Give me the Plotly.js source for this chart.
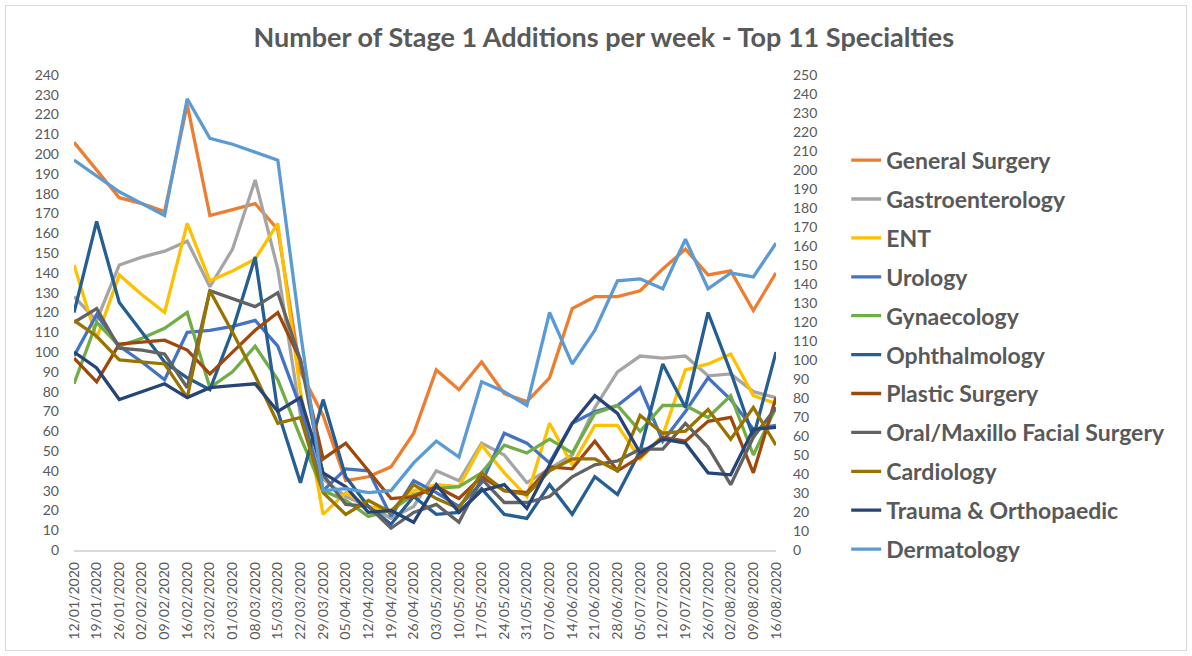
<!DOCTYPE html>
<html>
<head>
<meta charset="utf-8">
<script src="https://cdn.plot.ly/plotly-3.0.1.min.js"></script>
<style>
  html, body { margin: 0; padding: 0; background: #ffffff; }
  #wrap { position: relative; width: 1192px; height: 656px; }
  #chart { width: 1192px; height: 656px; }
  #frame { position: absolute; left: 5px; top: 5px; width: 1180px; height: 644px; border: 1px solid #D9D9D9; pointer-events: none; }
</style>
</head>
<body>
<div id="wrap"><div id="chart"></div><div id="frame"></div></div>
<script>
const weeks = ["12/01/2020","19/01/2020","26/01/2020","02/02/2020","09/02/2020","16/02/2020","23/02/2020","01/03/2020","08/03/2020","15/03/2020","22/03/2020","29/03/2020","05/04/2020","12/04/2020","19/04/2020","26/04/2020","03/05/2020","10/05/2020","17/05/2020","24/05/2020","31/05/2020","07/06/2020","14/06/2020","21/06/2020","28/06/2020","05/07/2020","12/07/2020","19/07/2020","26/07/2020","02/08/2020","09/08/2020","16/08/2020"];

const specialties = ["General Surgery","Gastroenterology","ENT","Urology","Gynaecology","Ophthalmology","Plastic Surgery","Oral/Maxillo Facial Surgery","Cardiology","Trauma & Orthopaedic","Dermatology"];

const generalSurgery = [206,192,178,175,171,225,169,172,175,162,90,68,35,37,42,59,91,81,95,79,75,87,122,128,128,131,142,152,139,141,121,140];
const gastroenterology = [128,116,144,148,151,156,133,152,187,142,68,36,27,22,16,22,40,35,54,48,34,41,48,72,90,98,97,98,88,89,80,77];
const ent = [144,107,139,129,120,165,136,141,147,165,80,18,29,22,20,30,33,32,53,39,27,64,43,63,63,46,58,91,94,99,78,74];
const urology = [98,119,103,95,86,110,111,113,116,103,72,30,41,40,17,35,29,22,34,59,54,44,64,70,73,82,55,70,87,76,61,63];
const gynaecology = [84,115,103,107,112,120,82,90,103,86,57,30,25,17,20,28,31,32,39,53,49,56,49,69,73,60,73,73,67,78,48,72];
const ophthalmology = [120,166,125,110,95,87,81,111,148,70,34,76,37,22,13,27,18,19,31,18,16,33,18,37,28,50,94,72,120,90,57,100];
const plasticSurgery = [97,85,104,105,106,101,89,100,111,120,96,46,54,40,26,27,32,26,37,30,29,42,41,55,40,47,57,55,65,67,39,77];
const oralMaxillo = [115,122,102,101,99,82,131,127,123,130,96,38,23,22,11,19,23,14,36,24,24,27,37,43,45,51,51,64,52,33,57,72];
const cardiology = [116,108,96,95,94,77,131,110,88,64,67,29,18,25,19,33,26,21,39,30,28,40,46,46,40,68,59,60,71,56,72,53];
const traumaOrtho = [100,92,76,80,84,77,82,83,84,70,77,39,32,19,20,14,33,19,30,33,21,43,64,78,69,49,56,54,39,38,61,62];
const dermatology = [197,189,181,175,169,228,208,205,201,197,110,30,31,29,30,44,55,47,85,80,73,120,94,111,136,137,132,157,132,140,138,155];

const leftTicks = [0,10,20,30,40,50,60,70,80,90,100,110,120,130,140,150,160,170,180,190,200,210,220,230,240];
const rightTicks = [0,10,20,30,40,50,60,70,80,90,100,110,120,130,140,150,160,170,180,190,200,210,220,230,240,250];

const seriesValues = [generalSurgery,gastroenterology,ent,urology,gynaecology,ophthalmology,plasticSurgery,oralMaxillo,cardiology,traumaOrtho,dermatology];
const colors = ["#ED7D31","#A5A5A5","#FFC000","#4472C4","#70AD47","#255E91","#9E480E","#636363","#997300","#264478","#5B9BD5"];

const textColor = "#595959";
const fontFam = "Lato, 'Open Sans', sans-serif";

const traces = specialties.map((name, i) => ({
  type: "scatter",
  mode: "lines",
  name: name,
  legendgroup: "g" + i,
  x: weeks,
  y: seriesValues[i],
  line: { color: colors[i], width: 3.3 },
  hoverinfo: "x+y+name"
}));

traces.push({
  type: "scatter", mode: "lines", x: weeks, y: weeks.map(() => null),
  yaxis: "y2", showlegend: false, hoverinfo: "skip"
});

const layout = {
  width: 1192, height: 656,
  margin: { l: 73.5, r: 416, t: 75, b: 106, pad: 0 },
  paper_bgcolor: "#ffffff", plot_bgcolor: "#ffffff",
  font: { family: fontFam, color: textColor, size: 14 },
  title: {
    text: "<b>Number of Stage 1 Additions per week - Top 11 Specialties</b>",
    font: { family: fontFam, size: 27, color: textColor },
    x: 0.5065, xanchor: "center", xref: "container",
    y: 0.943, yanchor: "middle", yref: "container"
  },
  xaxis: {
    type: "category",
    range: [0, weeks.length - 1],
    tickangle: -90,
    showgrid: false, zeroline: false,
    showline: true, linecolor: "#D9D9D9", linewidth: 1.5,
    ticks: "", ticklabelstandoff: 5,
    tickfont: { family: fontFam, size: 14, color: textColor },
    fixedrange: true
  },
  yaxis: {
    range: [0, 240],
    tickvals: leftTicks, ticktext: leftTicks.map(String),
    showgrid: false, zeroline: false, showline: false,
    ticks: "", ticklabelstandoff: 14,
    tickfont: { family: fontFam, size: 14, color: textColor },
    fixedrange: true
  },
  yaxis2: {
    range: [0, 250], overlaying: "y", side: "right",
    tickvals: rightTicks, ticktext: rightTicks.map(String),
    showgrid: false, zeroline: false, showline: false,
    ticks: "", ticklabelstandoff: 16,
    tickfont: { family: fontFam, size: 14, color: textColor },
    fixedrange: true
  },
  showlegend: true,
  legend: {
    x: 1.1, xanchor: "left", y: 0.866, yanchor: "top",
    font: { family: fontFam, size: 23, color: textColor, weight: "bold" },
    tracegroupgap: 6, bgcolor: "rgba(0,0,0,0)", itemwidth: 30
  }
};

Plotly.newPlot("chart", traces, layout, { displayModeBar: false, staticPlot: true });
</script>
</body>
</html>
